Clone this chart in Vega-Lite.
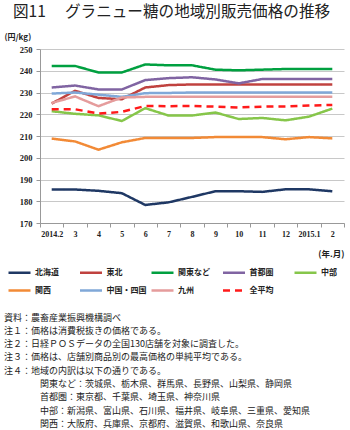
{
  "$schema": "https://vega.github.io/schema/vega-lite/v6.json",
  "padding": {"left": 4, "top": 5, "right": 2, "bottom": 0},
  "background": "white",
  "config": {"view": {"stroke": null}, "title": {"lineHeight": 13.3, "subtitleLineHeight": 13.3}},
  "title": {"text": "図11　 グラニュー糖の地域別販売価格の推移", "anchor": "start", "fontSize": 15.6, "font": "Noto Sans CJK JP", "fontWeight": "normal", "color": "#222222", "dx": 9, "offset": 12},
  "vconcat": [
    {
      "width": 304,
      "height": 174,
      "title": {
        "text": ["資料：農畜産業振興機構調べ", "注１：価格は消費税抜きの価格である。", "注２：日経ＰＯＳデータの全国130店舗を対象に調査した。", "注３：価格は、店舗別商品別の最高価格の単純平均である。", "注４：地域の内訳は以下の通りである。", "\u200b　　　　関東など：茨城県、栃木県、群馬県、長野県、山梨県、静岡県", "\u200b　　　　首都圏：東京都、千葉県、埼玉県、神奈川県", "\u200b　　　　中部：新潟県、富山県、石川県、福井県、岐阜県、三重県、愛知県", "\u200b　　　　関西：大阪府、兵庫県、京都府、滋賀県、和歌山県、奈良県"],
        "orient": "bottom", "anchor": "start", "frame": "bounds",
        "font": "Noto Sans CJK JP", "fontSize": 9, "fontWeight": "normal", "lineHeight": 13.3, "color": "#222222",
        "offset": 56
      },
      "data": {"values": [
        {"month": "2014.2", "region": "北海道", "price": 185.4}, {"month": "3", "region": "北海道", "price": 185.4}, {"month": "4", "region": "北海道", "price": 184.8}, {"month": "5", "region": "北海道", "price": 183.7}, {"month": "6", "region": "北海道", "price": 178.3}, {"month": "7", "region": "北海道", "price": 179.5}, {"month": "8", "region": "北海道", "price": 182.0}, {"month": "9", "region": "北海道", "price": 184.6}, {"month": "10", "region": "北海道", "price": 184.6}, {"month": "11", "region": "北海道", "price": 184.3}, {"month": "12", "region": "北海道", "price": 185.5}, {"month": "2015.1", "region": "北海道", "price": 185.5}, {"month": "2", "region": "北海道", "price": 184.6},
        {"month": "2014.2", "region": "東北", "price": 224.9}, {"month": "3", "region": "東北", "price": 230.8}, {"month": "4", "region": "東北", "price": 227.5}, {"month": "5", "region": "東北", "price": 226.9}, {"month": "6", "region": "東北", "price": 232.3}, {"month": "7", "region": "東北", "price": 233.4}, {"month": "8", "region": "東北", "price": 233.7}, {"month": "9", "region": "東北", "price": 233.7}, {"month": "10", "region": "東北", "price": 233.7}, {"month": "11", "region": "東北", "price": 233.7}, {"month": "12", "region": "東北", "price": 233.7}, {"month": "2015.1", "region": "東北", "price": 233.7}, {"month": "2", "region": "東北", "price": 233.7},
        {"month": "2014.2", "region": "関東など", "price": 242.2}, {"month": "3", "region": "関東など", "price": 242.2}, {"month": "4", "region": "関東など", "price": 239.2}, {"month": "5", "region": "関東など", "price": 239.2}, {"month": "6", "region": "関東など", "price": 242.9}, {"month": "7", "region": "関東など", "price": 242.5}, {"month": "8", "region": "関東など", "price": 242.5}, {"month": "9", "region": "関東など", "price": 240.5}, {"month": "10", "region": "関東など", "price": 240.2}, {"month": "11", "region": "関東など", "price": 240.5}, {"month": "12", "region": "関東など", "price": 240.8}, {"month": "2015.1", "region": "関東など", "price": 240.8}, {"month": "2", "region": "関東など", "price": 240.8},
        {"month": "2014.2", "region": "首都圏", "price": 232.3}, {"month": "3", "region": "首都圏", "price": 233.2}, {"month": "4", "region": "首都圏", "price": 231.4}, {"month": "5", "region": "首都圏", "price": 231.4}, {"month": "6", "region": "首都圏", "price": 235.7}, {"month": "7", "region": "首都圏", "price": 236.6}, {"month": "8", "region": "首都圏", "price": 237.0}, {"month": "9", "region": "首都圏", "price": 236.0}, {"month": "10", "region": "首都圏", "price": 234.2}, {"month": "11", "region": "首都圏", "price": 236.2}, {"month": "12", "region": "首都圏", "price": 236.2}, {"month": "2015.1", "region": "首都圏", "price": 236.2}, {"month": "2", "region": "首都圏", "price": 236.2},
        {"month": "2014.2", "region": "中部", "price": 221.4}, {"month": "3", "region": "中部", "price": 220.2}, {"month": "4", "region": "中部", "price": 219.5}, {"month": "5", "region": "中部", "price": 216.9}, {"month": "6", "region": "中部", "price": 222.8}, {"month": "7", "region": "中部", "price": 219.4}, {"month": "8", "region": "中部", "price": 219.4}, {"month": "9", "region": "中部", "price": 220.8}, {"month": "10", "region": "中部", "price": 217.8}, {"month": "11", "region": "中部", "price": 218.3}, {"month": "12", "region": "中部", "price": 217.2}, {"month": "2015.1", "region": "中部", "price": 218.9}, {"month": "2", "region": "中部", "price": 222.6},
        {"month": "2014.2", "region": "関西", "price": 208.8}, {"month": "3", "region": "関西", "price": 207.5}, {"month": "4", "region": "関西", "price": 203.7}, {"month": "5", "region": "関西", "price": 207.1}, {"month": "6", "region": "関西", "price": 209.1}, {"month": "7", "region": "関西", "price": 209.1}, {"month": "8", "region": "関西", "price": 209.1}, {"month": "9", "region": "関西", "price": 209.5}, {"month": "10", "region": "関西", "price": 209.5}, {"month": "11", "region": "関西", "price": 209.5}, {"month": "12", "region": "関西", "price": 208.5}, {"month": "2015.1", "region": "関西", "price": 209.5}, {"month": "2", "region": "関西", "price": 208.9},
        {"month": "2014.2", "region": "中国・四国", "price": 229.5}, {"month": "3", "region": "中国・四国", "price": 230.0}, {"month": "4", "region": "中国・四国", "price": 229.0}, {"month": "5", "region": "中国・四国", "price": 228.0}, {"month": "6", "region": "中国・四国", "price": 229.7}, {"month": "7", "region": "中国・四国", "price": 229.8}, {"month": "8", "region": "中国・四国", "price": 230.0}, {"month": "9", "region": "中国・四国", "price": 230.0}, {"month": "10", "region": "中国・四国", "price": 230.0}, {"month": "11", "region": "中国・四国", "price": 230.0}, {"month": "12", "region": "中国・四国", "price": 230.0}, {"month": "2015.1", "region": "中国・四国", "price": 230.0}, {"month": "2", "region": "中国・四国", "price": 230.0},
        {"month": "2014.2", "region": "九州", "price": 225.2}, {"month": "3", "region": "九州", "price": 228.2}, {"month": "4", "region": "九州", "price": 223.7}, {"month": "5", "region": "九州", "price": 227.7}, {"month": "6", "region": "九州", "price": 228.0}, {"month": "7", "region": "九州", "price": 228.0}, {"month": "8", "region": "九州", "price": 228.0}, {"month": "9", "region": "九州", "price": 228.0}, {"month": "10", "region": "九州", "price": 228.0}, {"month": "11", "region": "九州", "price": 228.0}, {"month": "12", "region": "九州", "price": 228.0}, {"month": "2015.1", "region": "九州", "price": 228.0}, {"month": "2", "region": "九州", "price": 228.0},
        {"month": "2014.2", "region": "全平均", "price": 222.3}, {"month": "3", "region": "全平均", "price": 222.3}, {"month": "4", "region": "全平均", "price": 220.3}, {"month": "5", "region": "全平均", "price": 221.1}, {"month": "6", "region": "全平均", "price": 223.8}, {"month": "7", "region": "全平均", "price": 223.7}, {"month": "8", "region": "全平均", "price": 223.8}, {"month": "9", "region": "全平均", "price": 223.5}, {"month": "10", "region": "全平均", "price": 223.1}, {"month": "11", "region": "全平均", "price": 223.5}, {"month": "12", "region": "全平均", "price": 223.6}, {"month": "2015.1", "region": "全平均", "price": 224.0}, {"month": "2", "region": "全平均", "price": 224.3}
      ]},
      "mark": {"type": "line", "strokeWidth": 2.5},
      "encoding": {
        "x": {
          "field": "month", "type": "ordinal",
          "sort": ["2014.2", "3", "4", "5", "6", "7", "8", "9", "10", "11", "12", "2015.1", "2"],
          "bandPosition": 0.5,
          "scale": {"type": "band", "paddingInner": 0, "paddingOuter": 0},
          "axis": {
            "title": "(年.月)", "titleAnchor": "end", "titleAlign": "right", "titleBaseline": "middle", "titleY": 30,
            "titleFont": "Noto Sans CJK JP", "titleFontSize": 8.5, "titleFontWeight": "bold", "titleColor": "#222222",
            "labelAngle": 0, "labelFont": "Liberation Sans Narrow", "labelFontSize": 8, "labelFontWeight": "bold", "labelColor": "#222222", "labelPadding": 3,
            "tickBand": "extent", "tickSize": 4, "tickColor": "#999999", "domainColor": "#999999", "grid": false
          }
        },
        "y": {
          "field": "price", "type": "quantitative",
          "scale": {"domain": [170, 250], "nice": false, "zero": false},
          "axis": {
            "values": [170, 180, 190, 200, 210, 220, 230, 240, 250],
            "title": "(円/kg)", "titleAngle": 0, "titleAlign": "left", "titleBaseline": "middle", "titleX": -36, "titleY": -12,
            "titleFont": "Noto Sans CJK JP", "titleFontSize": 8, "titleFontWeight": "bold", "titleColor": "#222222",
            "labelFont": "Liberation Sans Narrow", "labelFontSize": 8.5, "labelFontWeight": "bold", "labelColor": "#222222", "labelPadding": 4,
            "tickSize": 4, "tickColor": "#999999", "domainColor": "#999999", "gridColor": "#c8c8c8"
          }
        },
        "color": {
          "field": "region", "type": "nominal",
          "scale": {
            "domain": ["北海道", "東北", "関東など", "首都圏", "中部", "関西", "中国・四国", "九州", "全平均"],
            "range": ["#1f3864", "#c0423f", "#00a040", "#8064a2", "#86c64a", "#f28a36", "#80a8d8", "#e59c9c", "#ff1a1a"]
          },
          "legend": {
            "orient": "none", "legendX": -33, "legendY": 211, "title": null, "direction": "horizontal", "columns": 5,
            "symbolType": "stroke", "symbolSize": 484, "symbolStrokeWidth": 2.5,
            "labelFont": "Noto Sans CJK JP", "labelFontSize": 8, "labelFontWeight": "bold", "labelColor": "#222222", "labelOffset": 3, "labelLimit": 100,
            "columnPadding": -0.5, "rowPadding": -2, "gridAlign": "all", "padding": 0
          }
        },
        "strokeDash": {
          "field": "region", "type": "nominal",
          "scale": {
            "domain": ["北海道", "東北", "関東など", "首都圏", "中部", "関西", "中国・四国", "九州", "全平均"],
            "range": [[1, 0], [1, 0], [1, 0], [1, 0], [1, 0], [1, 0], [1, 0], [1, 0], [7, 5]]
          },
          "legend": {
            "orient": "none", "legendX": -33, "legendY": 211, "title": null, "direction": "horizontal", "columns": 5,
            "symbolType": "stroke", "symbolSize": 484, "symbolStrokeWidth": 2.5,
            "labelFont": "Noto Sans CJK JP", "labelFontSize": 8, "labelFontWeight": "bold", "labelColor": "#222222", "labelOffset": 3, "labelLimit": 100,
            "columnPadding": -0.5, "rowPadding": -2, "gridAlign": "all", "padding": 0
          }
        }
      }
    }
  ]
}
